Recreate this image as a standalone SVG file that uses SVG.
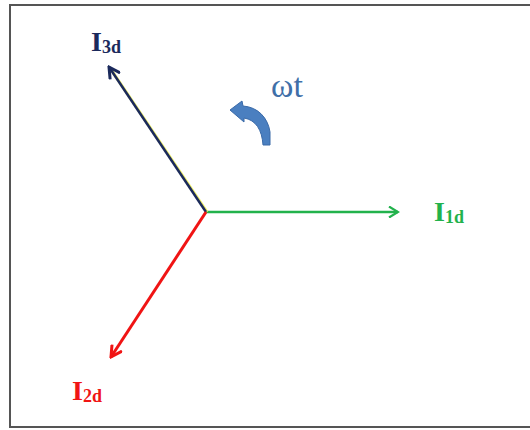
<svg xmlns="http://www.w3.org/2000/svg" width="530" height="430" viewBox="0 0 530 430">
<style>
.lbl{font-family:"Liberation Serif",serif;font-weight:bold}
.main{font-size:28px}
.sub{font-size:18px}
</style>
<defs>
<marker id="ag" markerWidth="12" markerHeight="12" refX="10" refY="6" orient="auto" markerUnits="userSpaceOnUse"><path d="M1,0.5 L10,6 L1,11.5" fill="none" stroke="#22b24c" stroke-width="2.2"/></marker>
<marker id="ab" markerWidth="14" markerHeight="14" refX="12" refY="7" orient="auto" markerUnits="userSpaceOnUse"><path d="M1,1 L12,7 L1,13" fill="none" stroke="#1b2a5c" stroke-width="3"/></marker>
<marker id="ar" markerWidth="14" markerHeight="14" refX="12" refY="7" orient="auto" markerUnits="userSpaceOnUse"><path d="M1,1 L12,7 L1,13" fill="none" stroke="#f01414" stroke-width="3"/></marker>
</defs>
<rect x="10" y="5" width="540" height="422" fill="#fff" stroke="#555" stroke-width="2"/>
<g id="connectors">
<line x1="206" y1="212" x2="398" y2="212" stroke="#22b24c" stroke-width="2.5" marker-end="url(#ag)"/>
<line x1="207" y1="212" x2="110" y2="68" stroke="#f0f060" stroke-width="3"/>
<line x1="206" y1="212" x2="109" y2="67" stroke="#1b2a5c" stroke-width="2.5" marker-end="url(#ab)"/>
<line x1="206" y1="212" x2="111" y2="357" stroke="#f01414" stroke-width="3" marker-end="url(#ar)"/>
</g>
<g id="I1d"><text class="lbl" x="434" y="221" fill="#22b24c"><tspan class="main">I</tspan><tspan class="sub" dy="2">1d</tspan></text></g>
<g id="I3d"><text class="lbl" x="91" y="51" fill="#1b2a5c"><tspan class="main">I</tspan><tspan class="sub" dy="2">3d</tspan></text></g>
<g id="I2d"><text class="lbl" x="72" y="400" fill="#f01414"><tspan class="main">I</tspan><tspan class="sub" dy="2">2d</tspan></text></g>
<g id="rotation">
<text x="271" y="97" font-family="Liberation Serif,serif" font-size="34" fill="#3f6fa8">ωt</text>
<path d="M230,110 L242,101 L243,106 C258,107 268,118 270,132 L270,145 L263,145 C262,130 256,120 244,118 L244,122 Z" fill="#4a7fc0" stroke="#3a6aa8" stroke-width="1"/>
</g>
</svg>
